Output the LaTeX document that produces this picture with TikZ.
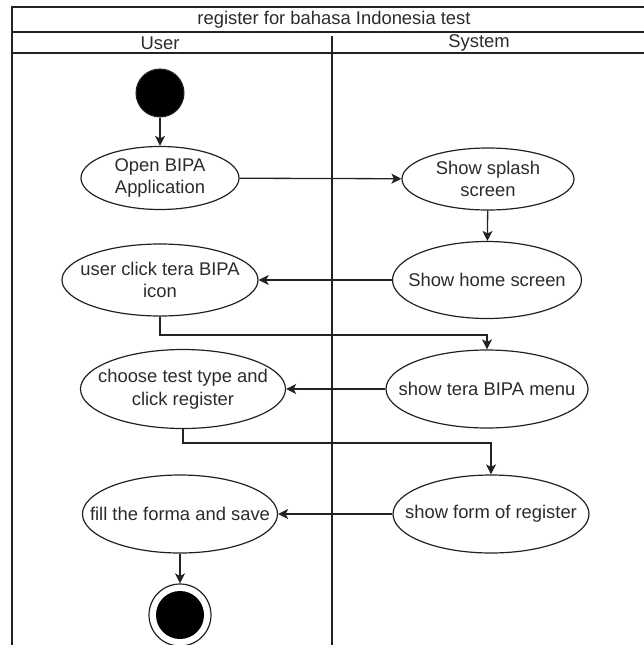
\documentclass[tikz,border=0pt]{standalone}
\usepackage{fontspec}
\setmainfont{Liberation Sans}
\usetikzlibrary{shapes.geometric,arrows.meta}
\definecolor{ink}{HTML}{222222}
\definecolor{txt}{HTML}{2b2b2b}
\tikzset{
  frame/.style={draw=ink, line width=1.4pt},
  act/.style={ellipse, draw=ink, line width=1.2pt, inner sep=0pt},
  lbl/.style={text=txt, inner sep=0pt, align=center,
    font=\fontsize{18.4}{22.5}\selectfont},
  flow/.style={draw=ink, line width=1.3pt, -{Stealth[length=10pt,width=10pt,inset=2.5pt]}},
}
\begin{document}
\begin{tikzpicture}[x=1pt,y=-1pt]
\useasboundingbox (0,0) rectangle (644,645);
% swimlane frame
\draw[frame] (644,7) -- (12,7) -- (12,645);
\draw[frame] (12,32) -- (644,32);
\draw[frame] (12,53) -- (644,53);
\draw[frame] (332,36) -- (332,645);
\node[lbl] (title) at (334,20) {register for bahasa Indonesia test};
\node[lbl] (user) at (160,43) {User};
\node[lbl] (system) at (479,43) {System};
% activities (ellipse size fixed, caption set as a centred label)
\node[circle, fill=black, draw=ink, line width=1pt, minimum size=48pt, inner sep=0pt] (start) at (160,93) {};
\node[act, minimum width=158pt, minimum height=63pt,
  label={[lbl]center:Open BIPA\\Application}] (open) at (160,178) {};
\node[act, minimum width=172pt, minimum height=62pt,
  label={[lbl]center:Show splash\\screen}] (splash) at (488,179) {};
\node[act, minimum width=189pt, minimum height=77pt,
  label={[lbl]center:Show home screen}] (home) at (487,280) {};
\node[act, minimum width=196pt, minimum height=72pt,
  label={[lbl]center:user click tera BIPA\\icon}] (click) at (160,280) {};
\node[act, minimum width=202pt, minimum height=78pt,
  label={[lbl]center:show tera BIPA menu}] (menu) at (487,389) {};
\node[act, minimum width=205pt, minimum height=79pt,
  label={[lbl]center:choose test type and\\click register}] (choose) at (183,389) {};
\node[act, minimum width=196pt, minimum height=78pt,
  label={[lbl]center:show form of register}] (form) at (491,514) {};
\node[act, minimum width=195pt, minimum height=78pt,
  label={[lbl]center:fill the forma and save}] (fill) at (180,514) {};
\node[circle, draw=ink, line width=1.2pt, minimum size=62pt, inner sep=0pt] (stop) at (180,615) {};
\node[circle, fill=black, minimum size=48pt, inner sep=0pt] (stopdot) at (stop.center) {};
% control flow
\draw[flow] (start) -- (open);
\draw[flow] (open) -- (splash);
\draw[flow] (splash) -- (home);
\draw[flow] (home) -- (click);
\draw[flow] (click.south) -- (160,335) -- (487,335) -- (menu.north);
\draw[flow] (menu) -- (choose);
\draw[flow] (choose.south) -- (183,443) -- (491,443) -- (form.north);
\draw[flow] (form) -- (fill);
\draw[flow] (fill) -- (stop);
\end{tikzpicture}
\end{document}
